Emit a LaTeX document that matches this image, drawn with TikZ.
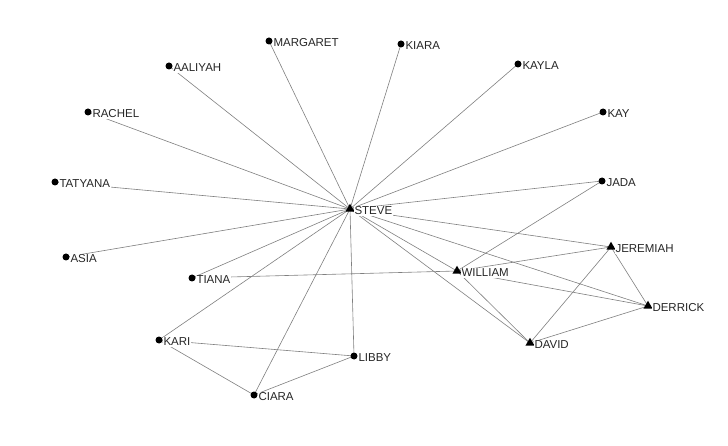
\documentclass[tikz,border=0pt]{standalone}
\usepackage{fontspec}
\setmainfont{Liberation Sans}
\usetikzlibrary{shapes.geometric}
\pgfdeclarelayer{bg}
\pgfdeclarelayer{edges}
\pgfsetlayers{bg,edges,main}
\tikzset{
  dotnode/.style={circle,fill=black,inner sep=0pt,minimum size=7pt},
  trinode/.style={regular polygon,regular polygon sides=3,fill=black,inner sep=0pt,minimum size=10.5pt},
  namelabel/.style={anchor=west,fill=white,inner sep=0.8pt,text=black!85,font=\fontsize{11.5}{13}\selectfont},
  tie/.style={draw=black!50,line width=0.6pt}
}
\begin{document}
\begin{tikzpicture}[x=1pt,y=-1pt]
\begin{pgfonlayer}{bg}
\fill[white] (0,0) rectangle (728,446);
\end{pgfonlayer}
\useasboundingbox (0,0) rectangle (728,446);
% circle nodes
\foreach \n/\x/\y/\t in {margaret/269/41/MARGARET, aaliyah/169/66/AALIYAH, rachel/88/112/RACHEL,
  tatyana/55/182/TATYANA, asia/66/257/ASIA, tiana/192/278/TIANA, kari/159/340/KARI,
  ciara/254/395/CIARA, libby/354/356/LIBBY, kiara/401/44/KIARA, kayla/518/64/KAYLA,
  kay/603/112/KAY, jada/602/181/JADA}{
  \node[dotnode] (\n) at (\x,\y) {};
  \node[namelabel] (\n-l) at (\x+3.5,\y+2) {\t};
}
% triangle nodes
\foreach \n/\x/\y/\t in {steve/350/209/STEVE, jeremiah/611/247/JEREMIAH, william/457/271/WILLIAM,
  derrick/648/306/DERRICK, david/530/343/DAVID}{
  \node[trinode] (\n) at (\x,\y) {};
  \node[namelabel] (\n-l) at (\x+3.5,\y+2) {\t};
}
\begin{pgfonlayer}{edges}
\foreach \m in {margaret,aaliyah,rachel,tatyana,asia,tiana,kari,ciara,libby,kiara,kayla,kay,jada,jeremiah,derrick,william,david}{
  \draw[tie] (steve.center) -- (\m.center);
}
\draw[tie] (tiana.center) -- (william.center);
\draw[tie] (jada.center) -- (william.center);
\draw[tie] (william.center) -- (jeremiah.center);
\draw[tie] (william.center) -- (derrick.center);
\draw[tie] (william.center) -- (david.center);
\draw[tie] (jeremiah.center) -- (derrick.center);
\draw[tie] (jeremiah.center) -- (david.center);
\draw[tie] (david.center) -- (derrick.center);
\draw[tie] (kari.center) -- (libby.center);
\draw[tie] (kari.center) -- (ciara.center);
\draw[tie] (ciara.center) -- (libby.center);
\end{pgfonlayer}
\end{tikzpicture}
\end{document}
